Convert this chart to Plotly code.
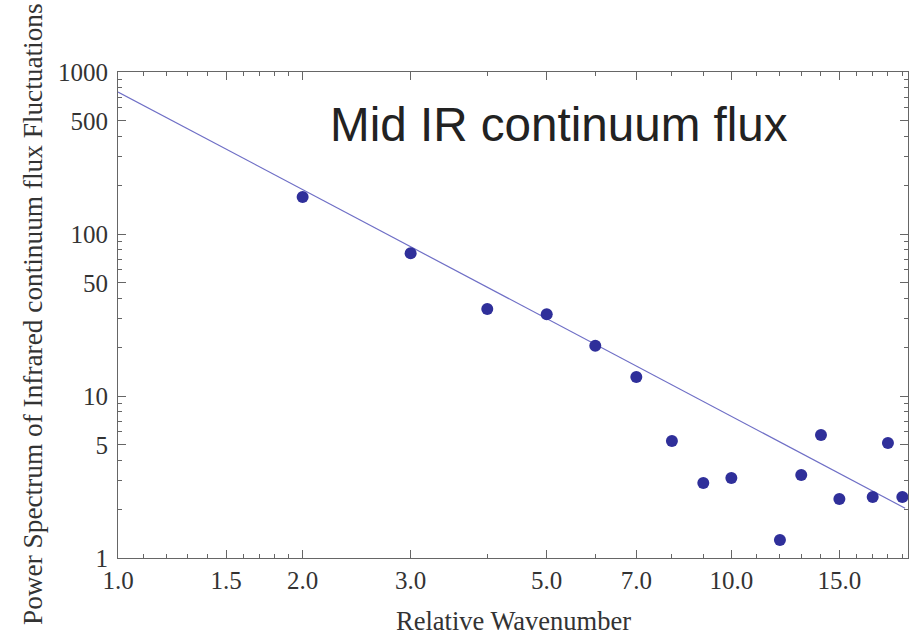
import plotly.graph_objects as go

# Data
wavenumber = [2, 3, 4, 5, 6, 7, 8, 9, 10, 12, 13, 14, 15, 17, 18, 19]
power = [169, 76, 34.4, 32, 20.4, 13.1, 5.28, 2.9, 3.12, 1.29, 3.25, 5.75, 2.31, 2.38, 5.13, 2.38]

# Fitted power-law line (endpoints)
fit_x = [1.0, 19.2]
fit_y = [753, 2.03]

x_tickvals = [1.0, 1.5, 2.0, 3.0, 5.0, 7.0, 10.0, 15.0]
x_ticktext = ["1.0", "1.5", "2.0", "3.0", "5.0", "7.0", "10.0", "15.0"]
x_minor = [1.1, 1.2, 1.3, 1.4, 1.6, 1.7, 1.8, 1.9, 4, 6, 8, 9, 11, 12, 13, 14, 16, 17, 18, 19]

y_tickvals = [1, 5, 10, 50, 100, 500, 1000]
y_ticktext = ["1", "5", "10", "50", "100", "500", "1000"]
y_minor = [m * d for d in (1, 10, 100) for m in (2, 3, 4, 6, 7, 8, 9)]

title_text = "Mid IR continuum flux"
x_title = "Relative Wavenumber"
y_title = "Power Spectrum of Infrared continuum flux Fluctuations"

fig = go.Figure()
fig.add_trace(go.Scatter(x=fit_x, y=fit_y, mode="lines",
                         line=dict(color="#6f6fc6", width=1.2), showlegend=False))
fig.add_trace(go.Scatter(x=wavenumber, y=power, mode="markers",
                         marker=dict(color="#2f2f9a", size=12), showlegend=False))

serif = "Liberation Serif"
axis_common = dict(
    showgrid=False, zeroline=False, showline=True, linecolor="#666", linewidth=1,
    mirror="allticks", ticks="inside", ticklen=8, tickcolor="#666", tickwidth=1,
    tickfont=dict(family=serif, size=25, color="#333"),
)
fig.update_xaxes(type="log", range=[0, 1.288], tickvals=x_tickvals, ticktext=x_ticktext,
                 minor=dict(tickvals=x_minor, ticks="inside", ticklen=4, tickcolor="#666"),
                 **axis_common)
fig.update_yaxes(type="log", range=[0, 3], tickvals=y_tickvals, ticktext=y_ticktext,
                 minor=dict(tickvals=y_minor, ticks="inside", ticklen=4, tickcolor="#666"),
                 ticklabelstandoff=4, **axis_common)

fig.add_annotation(text=title_text, xref="paper", yref="paper", x=0.266, y=0.891,
                   xanchor="left", yanchor="middle", showarrow=False,
                   font=dict(family="Liberation Sans", size=47.6, color="#222"))
fig.add_annotation(text=x_title, xref="paper", yref="paper", x=0.5, y=-0.13,
                   xanchor="center", yanchor="middle", showarrow=False,
                   font=dict(family=serif, size=26.5, color="#333"))
fig.add_annotation(text=y_title, xref="paper", yref="paper", x=-0.1076, y=0.502,
                   xanchor="center", yanchor="middle", textangle=-90, showarrow=False,
                   font=dict(family=serif, size=27.3, color="#333"))

fig.update_layout(width=914, height=637, plot_bgcolor="white", paper_bgcolor="white",
                  margin=dict(l=118, r=6, t=72, b=79), hovermode=False)
# Remove the default 8px page margin so the figure fills the window exactly.
fig.write_html("out.html", config={"displayModeBar": False},
               post_script="document.body.style.margin='0';")
